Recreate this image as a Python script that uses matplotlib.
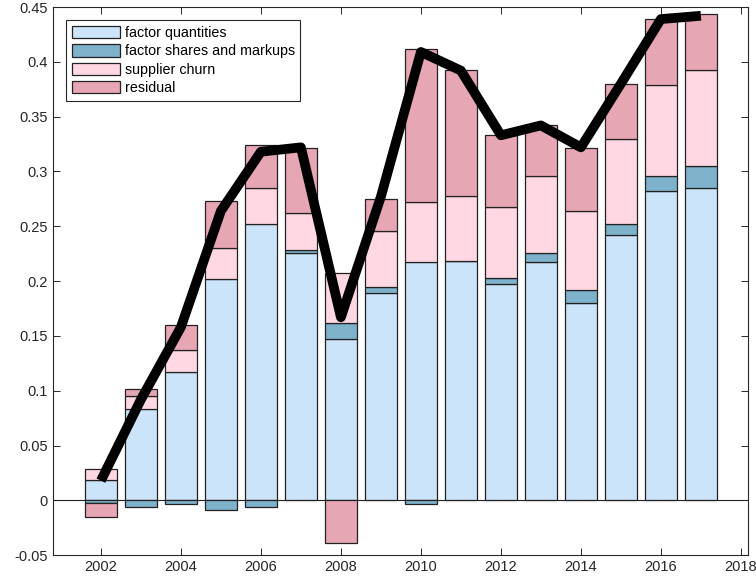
import numpy as np
import matplotlib
matplotlib.use('Agg')
import matplotlib.pyplot as plt

# data
years = np.arange(2002, 2018)
factor_quantities = [0.019, 0.083, 0.117, 0.202, 0.252, 0.226, 0.147, 0.189,
                     0.217, 0.218, 0.197, 0.217, 0.180, 0.242, 0.282, 0.285]
factor_shares = [-0.002, -0.006, -0.003, -0.009, -0.006, 0.002, 0.015, 0.006,
                 -0.003, 0.000, 0.006, 0.009, 0.012, 0.010, 0.014, 0.020]
supplier_churn = [0.010, 0.012, 0.020, 0.028, 0.033, 0.034, 0.045, 0.051,
                  0.055, 0.060, 0.065, 0.070, 0.072, 0.078, 0.083, 0.088]
residual = [-0.013, 0.007, 0.023, 0.043, 0.039, 0.059, -0.039, 0.029,
            0.140, 0.115, 0.065, 0.046, 0.057, 0.050, 0.060, 0.051]
total = [0.018, 0.092, 0.158, 0.264, 0.318, 0.322, 0.167, 0.277,
         0.409, 0.392, 0.333, 0.342, 0.322, 0.380, 0.439, 0.442]

labels = ['factor quantities', 'factor shares and markups', 'supplier churn', 'residual']
colors = ['#CCE4FA', '#7EB2CB', '#FFD8E4', '#E7A6B3']

plt.rcParams['font.family'] = ['Liberation Sans', 'DejaVu Sans']

fig = plt.figure(figsize=(7.56, 5.85), dpi=100)
ax = fig.add_axes([0.070, 0.051, 0.919, 0.937])

# stacked bars, positive parts upward and negative parts downward
pos_base = np.zeros(len(years))
neg_base = np.zeros(len(years))
for vals, c, lab in zip([factor_quantities, factor_shares, supplier_churn, residual], colors, labels):
    v = np.array(vals)
    bottom = np.where(v >= 0, pos_base, neg_base)
    ax.bar(years, v, width=0.8, bottom=bottom, color=c, edgecolor='#222222',
           linewidth=0.9, label=lab, zorder=2)
    pos_base = pos_base + np.where(v >= 0, v, 0)
    neg_base = neg_base + np.where(v < 0, v, 0)

ax.axhline(0, color='#222222', linewidth=0.8, zorder=1)
ax.plot(years, total, color='black', linewidth=7, solid_joinstyle='round',
        solid_capstyle='butt', zorder=3)

ax.set_xlim(2000.8, 2018.17)
ax.set_ylim(-0.05, 0.45)
ax.set_xticks(np.arange(2002, 2019, 2))
yt = np.arange(-0.05, 0.451, 0.05)
ax.set_yticks(yt)
ax.set_yticklabels(['{:g}'.format(round(t, 2)) for t in yt])

ax.tick_params(direction='in', top=True, right=True, labelsize=10.5,
               colors='#262626', length=5, width=0.7)
for s in ax.spines.values():
    s.set_color('#262626')
    s.set_linewidth(0.8)

leg = ax.legend(loc='upper left', bbox_to_anchor=(0.0187, 0.976), fontsize=10.3,
                frameon=True, fancybox=False, edgecolor='#262626', framealpha=1,
                handlelength=3.35, handleheight=0.95, labelspacing=0.3,
                borderpad=0.4, handletextpad=0.35, borderaxespad=0.0)
leg.get_frame().set_linewidth(0.8)

plt.savefig('out.png', dpi=100)
